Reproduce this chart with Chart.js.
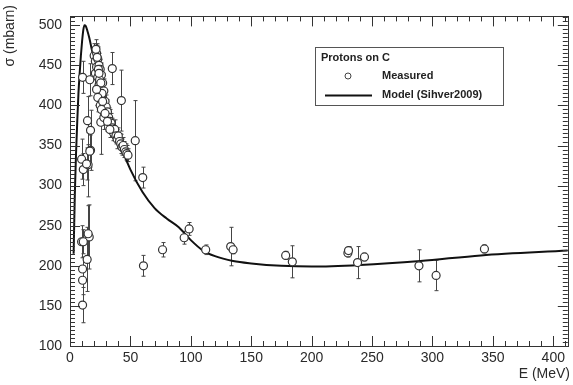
<!DOCTYPE html>
<html>
<head>
<meta charset="utf-8">
<script src="https://cdn.jsdelivr.net/npm/chart.js@4"></script>
<style>
  html, body { margin: 0; padding: 0; background: #fff; }
  #wrap { width: 573px; height: 385px; }
</style>
</head>
<body>
<div id="wrap"><canvas id="xsChart" width="573" height="385"></canvas></div>
<script>
// model curve (Sihver2009)
const modelE = [3, 4, 5, 6, 7, 8, 9, 10, 11, 12, 13, 14, 16, 18, 20, 25, 30, 35, 40, 45, 50, 60, 70, 80, 90, 100, 110, 120, 135, 150, 175, 200, 240, 290, 340, 412];
const modelSigma = [215, 290, 340, 380, 415, 440, 462, 480, 494, 500, 499, 495, 484, 470, 457, 430, 405, 382, 360, 338, 320, 292, 272, 259, 248, 232, 219, 212, 206, 203, 200, 199, 201, 206, 213, 219];

// measured points with symmetric errors
const measE = [
  9.6, 10.4, 10.4, 10.4, 14.2, 15.9, 11, 15, 9.6, 11, 15, 13.7, 17, 16.4, 17, 14.5, 10.4, 16.4, 25.5, 35, 42.5, 54, 60.2,
  20, 21, 21, 22, 22, 23, 23, 24, 24, 25, 25, 26, 26, 27, 27, 28, 28, 29, 30, 30, 31, 32, 33, 34, 35, 36, 37, 38, 39, 40, 41, 42, 43, 44, 45, 46, 47, 48,
  21.5, 22.5, 23.5, 24.5, 25.5, 26.5, 22, 23, 24, 25, 26, 27, 28, 29, 31, 33,
  60.8, 76.6, 94.5, 98.6, 112.3, 133, 135, 178.5, 184, 230, 230.5, 238, 243.7, 288.8, 303, 343
];
const measSigma = [
  230, 196, 182, 151, 208, 236, 230, 240, 333, 320, 326, 327, 344, 343, 369, 381, 435, 432, 379, 446, 406, 356, 310,
  462, 455, 440, 465, 448, 458, 435, 450, 425, 445, 420, 438, 410, 428, 400, 418, 395, 405, 398, 388, 392, 385, 380, 378, 372, 366, 370, 362, 358, 362, 355, 352, 348, 350, 345, 342, 340, 338,
  470, 460, 445, 432, 428, 415, 420, 410, 440, 400, 395, 405, 385, 390, 380, 370,
  200, 220, 235, 246, 220, 224, 220, 213, 205, 216, 219, 204, 211, 200, 188, 221
];
const measErr = [
  20, 15, 18, 22, 40, 40, 15, 35, 25, 20, 40, 20, 25, 20, 25, 30, 20, 20, 40, 20, 38, 50, 13,
  15, 18, 20, 12, 18, 15, 20, 15, 18, 12, 20, 15, 18, 12, 20, 15, 15, 12, 15, 12, 15, 12, 15, 12, 12, 10, 12, 10, 12, 10, 10, 12, 10, 10, 10, 10, 10, 8,
  12, 15, 12, 15, 12, 15, 20, 18, 15, 20, 15, 12, 15, 12, 12, 10,
  13, 9, 8, 8, 6, 24, 5, 5, 20, 5, 5, 20, 5, 20, 19, 5
];

const xTicks = [0, 50, 100, 150, 200, 250, 300, 350, 400];
const yTicks = [100, 150, 200, 250, 300, 350, 400, 450, 500];

const axisFont = { family: 'Liberation Sans, Arial, sans-serif', size: 14 };
const textColor = '#2a2a2a';

// error bars under the markers
const errorBars = {
  id: 'errorBars',
  beforeDatasetsDraw(chart) {
    const ctx = chart.ctx;
    const xs = chart.scales.x, ys = chart.scales.y;
    ctx.save();
    ctx.strokeStyle = '#444';
    ctx.lineWidth = 1;
    measE.forEach((e, i) => {
      const px = Math.round(xs.getPixelForValue(e)) + 0.5;
      const top = ys.getPixelForValue(measSigma[i] + measErr[i]);
      const bot = ys.getPixelForValue(measSigma[i] - measErr[i]);
      ctx.beginPath();
      ctx.moveTo(px, top); ctx.lineTo(px, bot);
      ctx.moveTo(px - 2, top); ctx.lineTo(px + 2, top);
      ctx.moveTo(px - 2, bot); ctx.lineTo(px + 2, bot);
      ctx.stroke();
    });
    ctx.restore();
  }
};

// ROOT-like frame with inward ticks, axis titles and legend box
const frame = {
  id: 'frame',
  afterDraw(chart) {
    const ctx = chart.ctx;
    const a = chart.chartArea;
    const xs = chart.scales.x, ys = chart.scales.y;
    ctx.save();
    ctx.strokeStyle = '#333';
    ctx.lineWidth = 1;
    ctx.strokeRect(Math.round(a.left) + 0.5, Math.round(a.top) + 0.5, Math.round(a.right - a.left), Math.round(a.bottom - a.top));

    ctx.beginPath();
    for (let v = 0; v <= 410; v += 10) {
      const px = Math.round(xs.getPixelForValue(v)) + 0.5;
      const len = v % 50 === 0 ? 10 : 5;
      ctx.moveTo(px, a.bottom); ctx.lineTo(px, a.bottom - len);
      ctx.moveTo(px, a.top); ctx.lineTo(px, a.top + len);
    }
    for (let v = 100; v <= 510; v += 5) {
      const py = Math.round(ys.getPixelForValue(v)) + 0.5;
      const len = v % 50 === 0 ? 10 : 5;
      ctx.moveTo(a.left, py); ctx.lineTo(a.left + len, py);
      ctx.moveTo(a.right, py); ctx.lineTo(a.right - len, py);
    }
    ctx.stroke();

    // axis titles
    ctx.fillStyle = textColor;
    ctx.font = '14px Liberation Sans, Arial, sans-serif';
    ctx.textAlign = 'right';
    ctx.textBaseline = 'alphabetic';
    ctx.fillText('E (MeV)', 570, 378);
    ctx.save();
    ctx.translate(14, 5);
    ctx.rotate(-Math.PI / 2);
    ctx.fillText('σ (mbarn)', 0, 0);
    ctx.restore();

    // legend
    ctx.fillStyle = '#fff';
    ctx.fillRect(315, 47, 188, 58);
    ctx.strokeStyle = '#555';
    ctx.strokeRect(315.5, 47.5, 188, 58);
    ctx.fillStyle = '#222';
    ctx.textAlign = 'left';
    ctx.textBaseline = 'middle';
    ctx.font = 'bold 11px Liberation Sans, Arial, sans-serif';
    ctx.fillText('Protons on C', 321, 58);
    ctx.fillText('Measured', 382, 76);
    ctx.fillText('Model (Sihver2009)', 382, 95);
    ctx.beginPath();
    ctx.arc(348, 76, 3, 0, Math.PI * 2);
    ctx.strokeStyle = '#444';
    ctx.stroke();
    ctx.beginPath();
    ctx.moveTo(325, 95.5); ctx.lineTo(372, 95.5);
    ctx.strokeStyle = '#111';
    ctx.lineWidth = 2;
    ctx.stroke();
    ctx.restore();
  }
};

new Chart(document.getElementById('xsChart').getContext('2d'), {
  type: 'scatter',
  data: {
    datasets: [
      {
        label: 'Model (Sihver2009)',
        data: modelE.map((e, i) => ({ x: e, y: modelSigma[i] })),
        showLine: true,
        borderColor: '#111',
        borderWidth: 2,
        pointRadius: 0,
        cubicInterpolationMode: 'monotone',
        order: 2
      },
      {
        label: 'Measured',
        data: measE.map((e, i) => ({ x: e, y: measSigma[i] })),
        pointStyle: 'circle',
        pointRadius: 4,
        backgroundColor: '#fff',
        borderColor: '#333',
        borderWidth: 1.2,
        order: 1
      }
    ]
  },
  options: {
    responsive: false,
    animation: false,
    layout: { padding: { left: 0, right: 2, top: 6, bottom: 0 } },
    plugins: { legend: { display: false }, tooltip: { enabled: false } },
    scales: {
      x: {
        type: 'linear',
        min: 0,
        max: 412,
        afterBuildTicks: axis => { axis.ticks = xTicks.map(v => ({ value: v })); },
        afterFit: axis => { axis.height = 39; },
        grid: { display: false, drawTicks: false },
        border: { display: false },
        ticks: { font: axisFont, color: textColor, padding: 4, maxRotation: 0 }
      },
      y: {
        type: 'linear',
        min: 100,
        max: 511,
        afterBuildTicks: axis => { axis.ticks = yTicks.map(v => ({ value: v })); },
        afterFit: axis => { axis.width = 70; },
        grid: { display: false, drawTicks: false },
        border: { display: false },
        ticks: { font: axisFont, color: textColor, padding: 8 }
      }
    }
  },
  plugins: [errorBars, frame]
});
</script>
</body>
</html>
